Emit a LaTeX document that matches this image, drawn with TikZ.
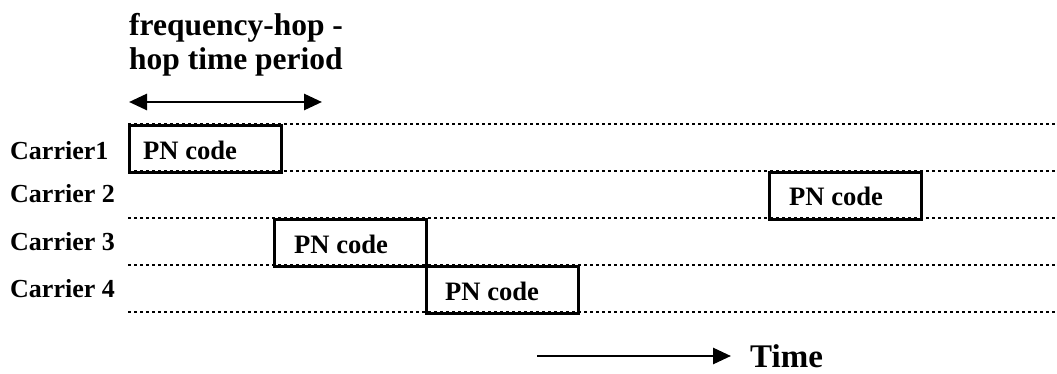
\documentclass[tikz,border=0pt]{standalone}
\usepackage{fontspec}
\setmainfont{Liberation Serif}
\usetikzlibrary{arrows.meta,calc}
\begin{document}
\begin{tikzpicture}[x=1pt,y=-1pt,
  slot/.style={draw=black,line width=3pt,rectangle,anchor=north west,
    minimum width=152pt,minimum height=47pt,inner sep=0pt},
  guide/.style={line width=2.7pt,dash pattern=on 3pt off 3pt},
  carrier/.style={anchor=base west,inner sep=0pt,font=\bfseries\fontsize{26}{30}\selectfont},
  code/.style={anchor=base west,inner sep=0pt,font=\bfseries\fontsize{26.6}{30}\selectfont},
  title/.style={anchor=base west,inner sep=0pt,font=\bfseries\fontsize{31.5}{34}\selectfont},
  tip/.tip={Triangle[length=18pt,width=16pt]},
  span/.style={line width=2.8pt,tip-tip},
  axis/.style={line width=2.8pt,-tip}]
\useasboundingbox (0,0) rectangle (1057,374);

% title above the hop period
\node[title] (t1) at (129,36) {frequency-hop -};
\node[title] (t2) at (129,70) {hop time period};
\coordinate (hopL) at (129,102);
\coordinate (hopR) at (322,102);
\draw[span] (hopL) -- (hopR);

% carrier boundaries
\foreach \y in {124,171,218,265,312}
  \draw[guide] (128,\y) -- (1057,\y);

% carrier names
\node[carrier] (c1) at (10,160) {Carrier1};
\node[carrier] (c2) at (10,203) {Carrier 2};
\node[carrier] (c3) at (10,250) {Carrier 3};
\node[carrier] (c4) at (10,297) {Carrier 4};

% hop slots
\node[slot] (b1) at (128,124) {};
\node[slot] (b2) at (768,171) {};
\node[slot] (b3) at (273,218) {};
\node[slot] (b4) at (425,265) {};

\node[code] (p1) at ($(b1.north west)+(15,36)$) {PN code};
\node[code] (p2) at ($(b2.north west)+(21,35)$) {PN code};
\node[code] (p3) at ($(b3.north west)+(21,35)$) {PN code};
\node[code] (p4) at ($(b4.north west)+(20,35)$) {PN code};

% time axis
\node[anchor=base west,inner sep=0pt,font=\bfseries\fontsize{33}{36}\selectfont] (time) at (750,367) {Time};
\coordinate (tA) at (537,356);
\coordinate (tB) at (731,356);
\draw[axis] (tA) -- (tB);
\end{tikzpicture}
\end{document}
